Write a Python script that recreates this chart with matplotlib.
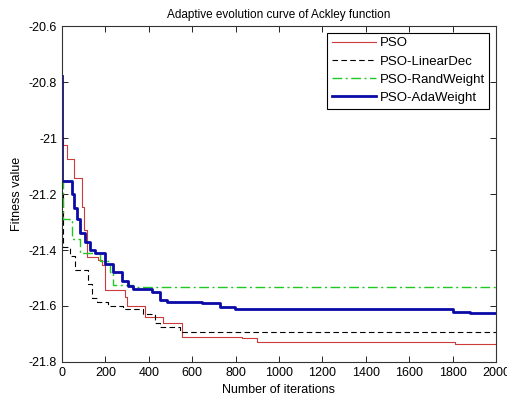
import matplotlib
matplotlib.use('Agg')
import matplotlib.pyplot as plt
from matplotlib.ticker import FuncFormatter
import numpy as np

plt.rcParams['font.family'] = ['Liberation Sans', 'DejaVu Sans']

# step curves: iteration where the value changes, new value
pso_it = [0, 5, 23, 55, 90, 103, 117, 167, 183, 198, 290, 298, 382, 466, 552, 828, 898, 1811, 2000]
pso_val = [-20.996, -21.025, -21.075, -21.143, -21.245, -21.33, -21.424, -21.436, -21.454, -21.543,
           -21.567, -21.6, -21.64, -21.66, -21.71, -21.715, -21.73, -21.735, -21.735]

lin_it = [0, 3, 37, 60, 120, 137, 160, 212, 283, 375, 429, 452, 544, 2000]
lin_val = [-21.2, -21.39, -21.42, -21.47, -21.52, -21.57, -21.585, -21.6, -21.61, -21.63,
           -21.66, -21.674, -21.692, -21.692]

rnd_it = [0, 3, 46, 83, 175, 221, 236, 327, 2000]
rnd_val = [-21.15, -21.29, -21.36, -21.41, -21.44, -21.48, -21.525, -21.533, -21.533]

ada_it = [0, 2, 48, 55, 70, 83, 106, 130, 152, 198, 235, 276, 304, 327, 414, 452, 482, 644, 728,
          797, 1800, 1880, 2000]
ada_val = [-20.78, -21.153, -21.2, -21.25, -21.29, -21.34, -21.37, -21.4, -21.41, -21.45, -21.48,
           -21.51, -21.53, -21.54, -21.55, -21.58, -21.585, -21.59, -21.605, -21.612, -21.62,
           -21.626, -21.626]

fig = plt.figure(figsize=(5.07, 3.99), dpi=100)
ax = fig.add_axes([62/507, 1-362/399, (496-62)/507, (362-26)/399])

ax.step(pso_it, pso_val, where='post', color='#cc3b3b', lw=0.8, label='PSO')
ax.step(lin_it, lin_val, where='post', color='k', lw=0.8, ls=(0, (5, 3)), label='PSO-LinearDec')
ax.step(rnd_it, rnd_val, where='post', color='#22c822', lw=1.0, ls=(0, (7, 2.5, 1.5, 2.5)), label='PSO-RandWeight')
ax.step(ada_it, ada_val, where='post', color='#0a0aa8', lw=2, label='PSO-AdaWeight')

ax.set_xlim(0, 2000)
ax.set_ylim(-21.8, -20.6)
ax.set_xticks(np.arange(0, 2001, 200))
ax.set_yticks(np.arange(-21.8, -20.59, 0.2))
ax.yaxis.set_major_formatter(FuncFormatter(lambda v, p: '%g' % round(v, 1)))
ax.tick_params(direction='in', top=True, right=True, labelsize=9, length=4, width=0.6)
for s in ax.spines.values():
    s.set_linewidth(0.8)
    s.set_color('#333333')

ax.set_title('Adaptive evolution curve of Ackley function', fontsize=8.5, pad=6)
ax.set_xlabel('Number of iterations', fontsize=9, labelpad=4)
ax.set_ylabel('Fitness value', fontsize=9, labelpad=4)

leg = ax.legend(loc='upper right', fontsize=9.5, handlelength=3.3, handletextpad=0.3,
                labelspacing=0.45, borderpad=0.35, borderaxespad=0.5, fancybox=False,
                framealpha=1, edgecolor='k')
leg.get_frame().set_linewidth(0.8)

fig.savefig('out.png', dpi=100)
